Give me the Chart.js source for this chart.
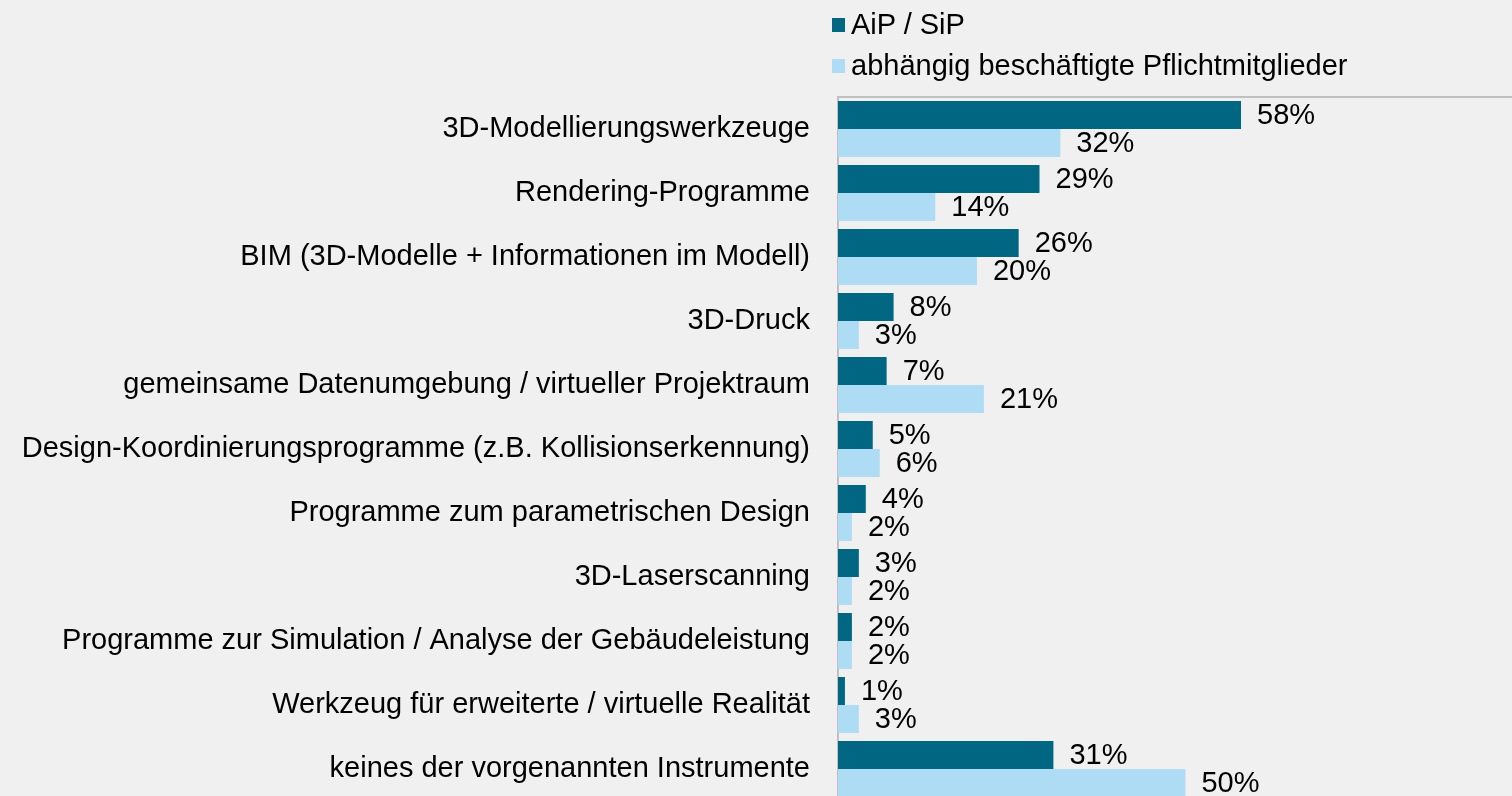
<!DOCTYPE html>
<html lang="de">
<head>
<meta charset="utf-8">
<title>Digitale Werkzeuge</title>
<script src="https://cdn.jsdelivr.net/npm/chart.js@4/dist/chart.umd.min.js"></script>
<style>
  html, body { margin: 0; padding: 0; background: #f0f0f0; overflow: hidden; }
  body { width: 1512px; height: 796px; position: relative; font-family: "Liberation Sans", Arial, sans-serif; }
  #wrap { position: absolute; left: 0; top: 0; width: 1512px; height: 801px; }
  #legend { position: absolute; left: 832px; top: 4px; }
  #legend .item { display: flex; align-items: center; height: 41px; font-size: 29px; color: #000; }
  #legend .box { width: 13px; height: 14px; margin-right: 6px; }
</style>
</head>
<body>
<div id="wrap"><canvas id="toolsChart"></canvas></div>
<div id="legend"></div>
<script>
const categories = [
    '3D-Modellierungswerkzeuge',
    'Rendering-Programme',
    'BIM (3D-Modelle + Informationen im Modell)',
    '3D-Druck',
    'gemeinsame Datenumgebung / virtueller Projektraum',
    'Design-Koordinierungsprogramme (z.B. Kollisionserkennung)',
    'Programme zum parametrischen Design',
    '3D-Laserscanning',
    'Programme zur Simulation / Analyse der Gebäudeleistung',
    'Werkzeug für erweiterte / virtuelle Realität',
    'keines der vorgenannten Instrumente'
];
const seriesNames = ['AiP / SiP', 'abhängig beschäftigte Pflichtmitglieder'];
const aipSip = [58, 29, 26, 8, 7, 5, 4, 3, 2, 1, 31];
const pflichtmitglieder = [32, 14, 20, 3, 21, 6, 2, 2, 2, 3, 50];

const FONT = '"Liberation Sans", Arial, sans-serif';

// percentage labels next to each bar end
const valueLabels = {
    id: 'valueLabels',
    afterDatasetsDraw(chart) {
        const ctx = chart.ctx;
        ctx.save();
        ctx.font = '29px ' + FONT;
        ctx.fillStyle = '#000';
        ctx.textAlign = 'left';
        ctx.textBaseline = 'middle';
        chart.data.datasets.forEach((ds, i) => {
            chart.getDatasetMeta(i).data.forEach((bar, j) => {
                ctx.fillText(ds.data[j] + '%', bar.x + 16, bar.y + 1);
            });
        });
        ctx.restore();
    }
};

const chart = new Chart(document.getElementById('toolsChart'), {
    type: 'bar',
    data: {
        labels: categories,
        datasets: [
            { label: seriesNames[0], data: aipSip, backgroundColor: '#006681' },
            { label: seriesNames[1], data: pflichtmitglieder, backgroundColor: '#aedcf4' }
        ]
    },
    options: {
        indexAxis: 'y',
        responsive: true,
        maintainAspectRatio: false,
        animation: false,
        categoryPercentage: 0.875,
        barPercentage: 1,
        layout: { padding: { top: 97, left: 0, right: 0, bottom: 0 } },
        plugins: {
            legend: { display: false },
            tooltip: { enabled: false }
        },
        scales: {
            x: {
                position: 'top',
                min: 0,
                max: 97,
                grid: { display: false, drawTicks: false },
                ticks: { display: false },
                border: { display: true, color: '#c0c0c0', width: 2 },
                afterFit: s => { s.height = 0; }
            },
            y: {
                grid: { display: false, drawTicks: false },
                border: { display: true, color: '#c0c0c0', width: 2 },
                ticks: { color: '#000', padding: 28, font: { family: FONT, size: 29 } },
                afterFit: s => {
                    s.width = 838;
                    s.paddingTop = 0;
                    s.paddingBottom = 0;
                }
            }
        }
    },
    plugins: [valueLabels]
});

// legend stacked above the plot
const legendEl = document.getElementById('legend');
chart.data.datasets.forEach(ds => {
    const item = document.createElement('div');
    item.className = 'item';
    item.innerHTML = `<span class="box" style="background:${ds.backgroundColor}"></span><span>${ds.label}</span>`;
    legendEl.appendChild(item);
});
</script>
</body>
</html>
